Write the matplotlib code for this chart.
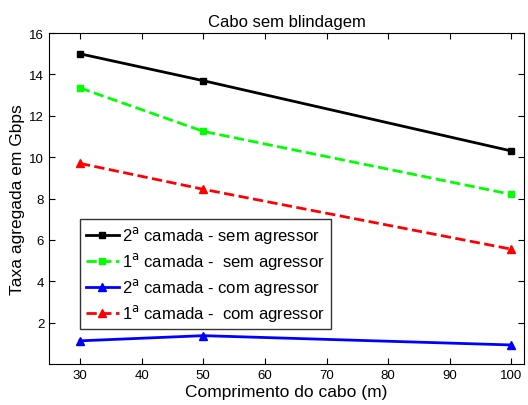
import matplotlib
matplotlib.use("Agg")
import matplotlib.pyplot as plt

plt.rcParams["font.family"] = ["Liberation Sans", "DejaVu Sans"]

comprimento = [30, 50, 100]
sem_agr_2a = [15.0, 13.7, 10.3]
sem_agr_1a = [13.35, 11.25, 8.2]
com_agr_2a = [1.12, 1.37, 0.92]
com_agr_1a = [9.7, 8.45, 5.55]

labels = [
    r"2$^{\mathrm{a}}$ camada - sem agressor",
    r"1$^{\mathrm{a}}$ camada -  sem agressor",
    r"2$^{\mathrm{a}}$ camada - com agressor",
    r"1$^{\mathrm{a}}$ camada -  com agressor",
]


def main():
    fig = plt.figure(figsize=(5.28, 4.06), dpi=100)
    ax = fig.add_axes([0.093, 0.101, 0.899, 0.815])

    ax.plot(comprimento, sem_agr_2a, "-s", color="black", lw=2, ms=5, label=labels[0])
    ax.plot(comprimento, sem_agr_1a, "--s", color="#00ff00", lw=2, ms=5, label=labels[1])
    ax.plot(comprimento, com_agr_2a, "-^", color="blue", lw=2, ms=6, label=labels[2])
    ax.plot(comprimento, com_agr_1a, "--^", color="red", lw=2, ms=6, label=labels[3])

    ax.set_xlim(25, 102)
    ax.set_ylim(0, 16)
    ax.set_xticks([30, 40, 50, 60, 70, 80, 90, 100])
    ax.set_yticks([2, 4, 6, 8, 10, 12, 14, 16])
    ax.tick_params(direction="in", top=True, right=True, labelsize=9.5, length=4)

    ax.set_title("Cabo sem blindagem", fontsize=12, pad=5)
    ax.set_xlabel("Comprimento do cabo (m)", fontsize=12.5, labelpad=2)
    ax.set_ylabel("Taxa agregada em Gbps", fontsize=12.5, labelpad=3)

    leg = ax.legend(loc="lower left", bbox_to_anchor=(0.065, 0.105), fontsize=12,
                    frameon=True, fancybox=False, edgecolor="black",
                    handlelength=2.0, borderpad=0.35, labelspacing=0.3,
                    handletextpad=0.2, borderaxespad=0)
    leg.get_frame().set_linewidth(1.0)

    fig.savefig("out.png", dpi=100)
    plt.close(fig)


if __name__ == "__main__":
    main()
